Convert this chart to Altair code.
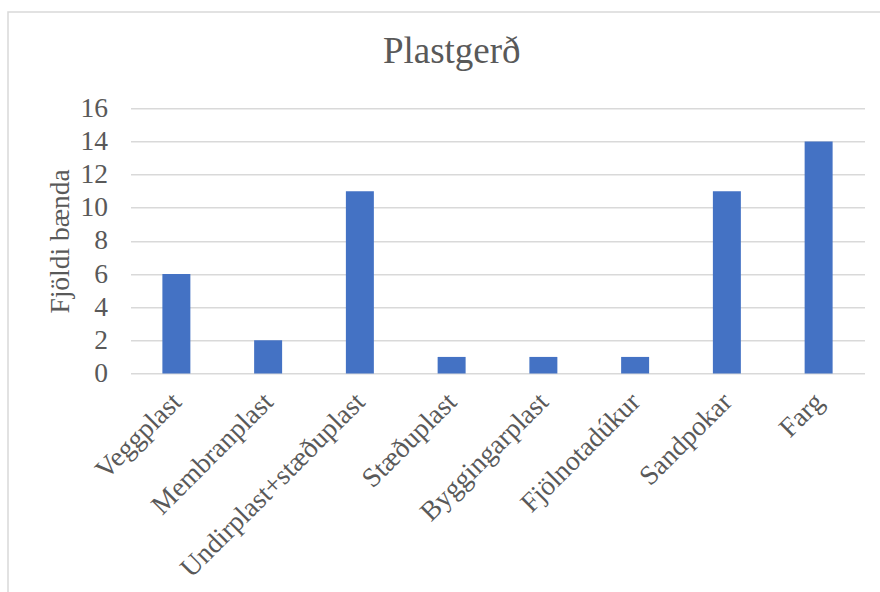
import altair as alt
import pandas as pd

# Plastic types used on farms and the number of farmers using each
categories = [
    "Veggplast",
    "Membranplast",
    "Undirplast+stæðuplast",
    "Stæðuplast",
    "Byggingarplast",
    "Fjölnotadúkur",
    "Sandpokar",
    "Farg",
]
counts = [6, 2, 11, 1, 1, 1, 11, 14]
y_ticks = [0, 2, 4, 6, 8, 10, 12, 14, 16]

df = pd.DataFrame({"Plastgerð": categories, "Fjöldi": counts})

FONT = "Liberation Serif"
TEXT = "#595959"
GRID = "#d9d9d9"
LABEL_SIZE = 27.5

PLOT_W = 734
PLOT_H = 265.2
LEFT, TOP = 130.5, 108.3
FRAME_TOP = 12 - TOP  # top edge of the outer frame, relative to the plot

bars = (
    alt.Chart(df)
    .mark_bar(color="#4472C4")
    .encode(
        x=alt.X(
            "Plastgerð:N",
            sort=categories,
            scale=alt.Scale(paddingInner=0.695, paddingOuter=0.3475),
            axis=alt.Axis(
                title=None,
                labelAngle=-45,
                labelAlign="right",
                labelBaseline="top",
                labelPadding=14,
                labelOffset=-9,
                labelLimit=0,
                labelFont=FONT,
                labelFontSize=LABEL_SIZE,
                labelColor=TEXT,
                ticks=False,
                domain=False,
                grid=False,
            ),
        ),
        y=alt.Y(
            "Fjöldi:Q",
            scale=alt.Scale(domain=[0, 16], nice=False),
            axis=alt.Axis(
                title="Fjöldi bænda",
                values=y_ticks,
                titleFont=FONT,
                titleFontSize=LABEL_SIZE,
                titleFontWeight="normal",
                titleColor=TEXT,
                titleAngle=-90,
                titleBaseline="bottom",
                titleAlign="center",
                titleX=-56,
                titleY=PLOT_H / 2,
                labelFont=FONT,
                labelFontSize=LABEL_SIZE,
                labelColor=TEXT,
                labelPadding=23,
                ticks=False,
                domain=False,
                grid=True,
                gridColor=GRID,
                gridWidth=1.5,
            ),
        ),
    )
)

# Light frame around the whole chart area
frame = (
    alt.Chart(pd.DataFrame({"k": [0]}))
    .mark_rect(filled=False, stroke=GRID, strokeWidth=1.5)
    .encode(
        x=alt.value(8 - LEFT),
        x2=alt.value(880 - LEFT + 20),
        y=alt.value(FRAME_TOP),
        y2=alt.value(592 - TOP + 20),
    )
)

chart = (
    alt.layer(frame, bars)
    .properties(
        width=PLOT_W,
        height=PLOT_H,
        title=alt.TitleParams(
            text="Plastgerð",
            font=FONT,
            fontSize=37,
            fontWeight="normal",
            color=TEXT,
            anchor="middle",
            frame="group",
            baseline="alphabetic",
            dx=-45.75,
            offset=-89,
        ),
        autosize=alt.AutoSizeParams(type="none"),
        padding={"left": LEFT, "top": TOP, "right": 880 - LEFT - PLOT_W, "bottom": 592 - TOP - PLOT_H},
        background="white",
    )
    .configure_view(stroke=None)
)

chart.save("out.html", embed_options={"renderer": "svg", "actions": False})
